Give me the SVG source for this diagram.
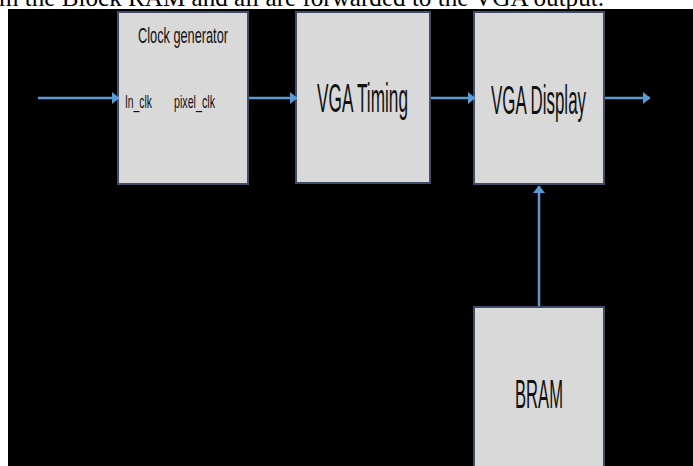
<svg xmlns="http://www.w3.org/2000/svg" width="693" height="466" viewBox="0 0 693 466">
<style>
.box{fill:#d9d9d9;stroke:#3f4d66;stroke-width:2}
.lbl{font-family:"Liberation Sans",Arial,sans-serif;fill:#111;text-anchor:middle}
.big{font-size:40px}
.conn{stroke:#5b9bd5;stroke-width:2.5;fill:none;marker-end:url(#ah)}
</style>
<defs>
<marker id="ah" markerUnits="userSpaceOnUse" markerWidth="9" markerHeight="13" refX="7" refY="6" orient="auto">
<path d="M0,0 L7.5,6 L0,12 Z" fill="#5b9bd5"/>
</marker>
</defs>
<rect x="0" y="0" width="693" height="466" fill="#ffffff"/>
<text x="-1" y="6" font-family="Liberation Serif,'Times New Roman',serif" font-size="25" fill="#000" textLength="605" lengthAdjust="spacingAndGlyphs">m the Block RAM and all are forwarded to the VGA output.</text>
<rect x="8" y="9" width="685" height="457" fill="#000000"/>
<g id="clock_generator">
<rect class="box" x="118" y="12" width="130" height="172"/>
<text class="lbl" x="183" y="43" font-size="22" textLength="90" lengthAdjust="spacingAndGlyphs">Clock generator</text>
<text class="lbl" x="138.5" y="108" font-size="19" textLength="27" lengthAdjust="spacingAndGlyphs">In_clk</text>
<text class="lbl" x="194.5" y="108" font-size="19" textLength="41" lengthAdjust="spacingAndGlyphs">pixel_clk</text>
</g>
<g id="vga_timing">
<rect class="box" x="296" y="12" width="134" height="171"/>
<text class="lbl big" x="362.5" y="112" textLength="91" lengthAdjust="spacingAndGlyphs">VGA Timing</text>
</g>
<g id="vga_display">
<rect class="box" x="474" y="12" width="130" height="172"/>
<text class="lbl big" x="538.5" y="114" textLength="95" lengthAdjust="spacingAndGlyphs">VGA Display</text>
</g>
<g id="bram">
<rect class="box" x="474" y="307" width="130" height="170"/>
<text class="lbl big" x="539" y="408" textLength="48" lengthAdjust="spacingAndGlyphs">BRAM</text>
</g>
<g id="connectors">
<line class="conn" x1="38" y1="98" x2="119" y2="98"/>
<line class="conn" x1="249" y1="98" x2="297" y2="98"/>
<line class="conn" x1="431" y1="98" x2="475" y2="98"/>
<line class="conn" x1="605" y1="98" x2="650" y2="98"/>
<line class="conn" x1="539" y1="306" x2="539" y2="186"/>
</g>
</svg>
